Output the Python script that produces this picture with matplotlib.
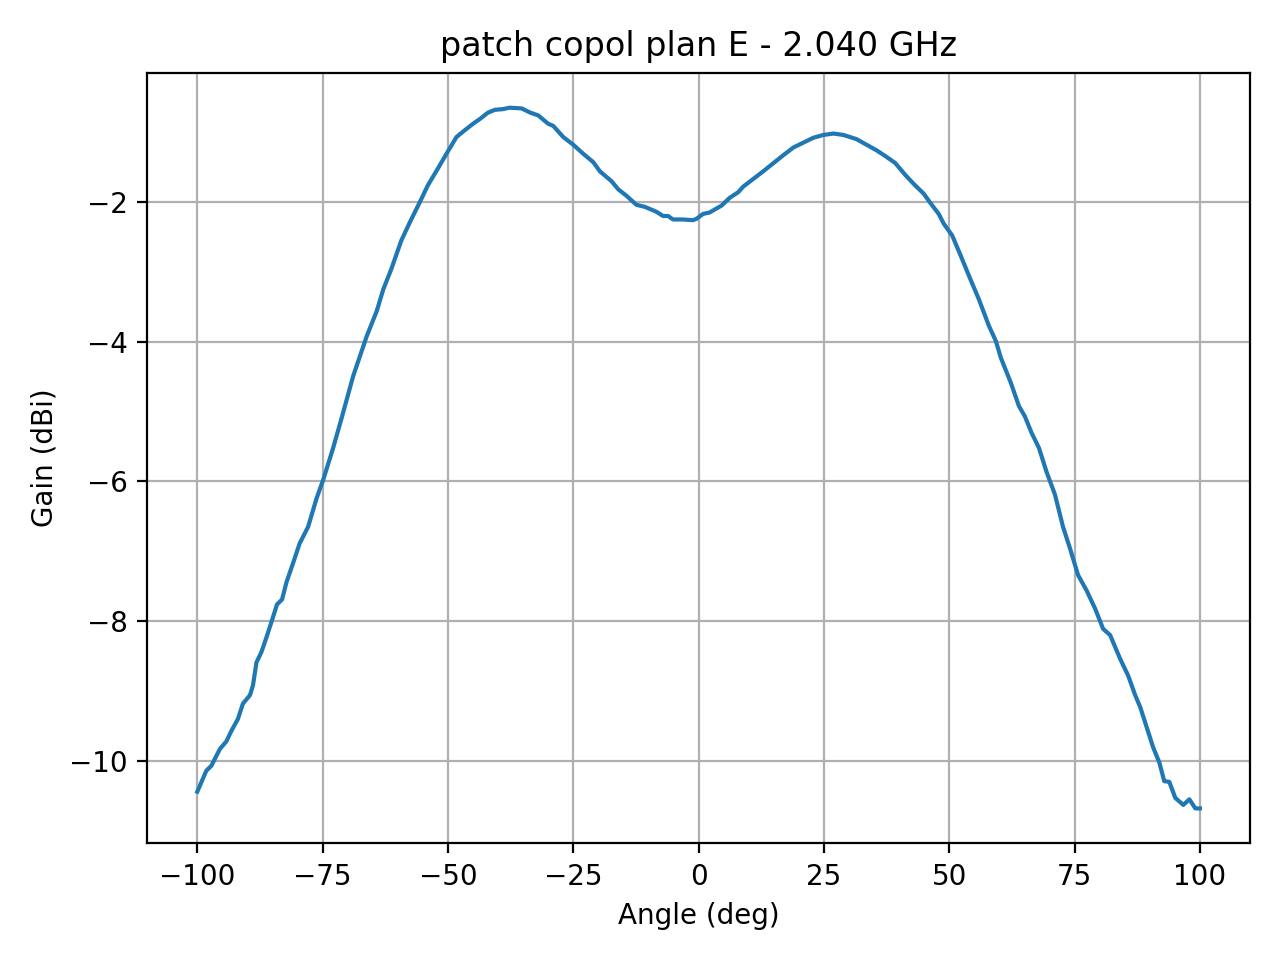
import matplotlib
matplotlib.use("Agg")
import matplotlib.pyplot as plt

angle = [
    -100.0, -98.2, -97.2, -95.5, -94.2, -93.2, -91.9, -90.9, -89.5, -88.9,
    -88.2, -87.2, -86.2, -85.2, -84.1, -83.1, -82.2, -80.9, -79.6, -77.9,
    -76.2, -74.9, -72.9, -71.2, -70.2, -68.9, -66.2, -64.2, -62.9, -61.3,
    -59.3, -57.6, -55.6, -54.0, -52.0, -50.3, -48.3, -46.6, -45.0, -43.6,
    -42.0, -40.6, -39.0, -37.7, -35.3, -33.6, -32.0, -30.0, -29.0, -27.0,
    -25.0, -23.0, -21.0, -19.7, -17.4, -16.0, -14.4, -12.4, -10.7, -8.4,
    -7.1, -6.1, -5.1, -3.1, -1.1, -0.4, 0.9, 2.2, 4.6, 6.2,
    7.9, 8.9, 10.9, 12.9, 14.3, 16.9, 18.9, 20.9, 22.9, 24.9,
    26.9, 28.9, 31.5, 33.5, 35.5, 37.2, 39.2, 41.2, 42.9, 44.9,
    46.2, 47.9, 48.9, 50.6, 52.3, 53.9, 55.9, 57.9, 59.3, 60.3,
    62.3, 63.9, 65.1, 66.4, 67.9, 69.4, 71.1, 72.7, 74.1, 75.7,
    77.4, 79.1, 80.7, 82.1, 84.1, 85.7, 87.1, 88.1, 89.4, 90.7,
    91.9, 92.9, 93.9, 95.1, 96.7, 97.9, 99.1, 100.0,
]

gain = [
    -10.44, -10.14, -10.07, -9.83, -9.72, -9.57, -9.40, -9.18, -9.06, -8.92,
    -8.59, -8.44, -8.23, -8.01, -7.76, -7.69, -7.44, -7.17, -6.89, -6.65,
    -6.24, -5.98, -5.52, -5.09, -4.83, -4.49, -3.92, -3.56, -3.25, -2.96,
    -2.55, -2.29, -2.00, -1.76, -1.52, -1.31, -1.07, -0.97, -0.88, -0.81,
    -0.72, -0.68, -0.67, -0.65, -0.66, -0.72, -0.76, -0.88, -0.91, -1.07,
    -1.18, -1.31, -1.43, -1.56, -1.70, -1.82, -1.91, -2.04, -2.07, -2.14,
    -2.20, -2.20, -2.25, -2.25, -2.26, -2.24, -2.17, -2.15, -2.05, -1.94,
    -1.86, -1.78, -1.67, -1.56, -1.48, -1.33, -1.22, -1.15, -1.08, -1.04,
    -1.02, -1.04, -1.10, -1.18, -1.26, -1.34, -1.44, -1.61, -1.74, -1.88,
    -2.01, -2.17, -2.31, -2.48, -2.77, -3.05, -3.39, -3.77, -3.99, -4.23,
    -4.59, -4.92, -5.07, -5.30, -5.52, -5.86, -6.19, -6.65, -6.96, -7.34,
    -7.56, -7.82, -8.11, -8.20, -8.54, -8.78, -9.06, -9.23, -9.52, -9.81,
    -10.02, -10.29, -10.30, -10.53, -10.63, -10.55, -10.68, -10.68,
]

freq_label = "2.040 GHz"

plt.figure(figsize=(6.4, 4.8), dpi=200)
plt.plot(angle, gain)
plt.xlabel("Angle (deg)")
plt.ylabel("Gain (dBi)")
plt.title(f"patch copol plan E - {freq_label}")
plt.grid(True)
plt.tight_layout()
plt.savefig("out.png", dpi=200)
plt.close()
